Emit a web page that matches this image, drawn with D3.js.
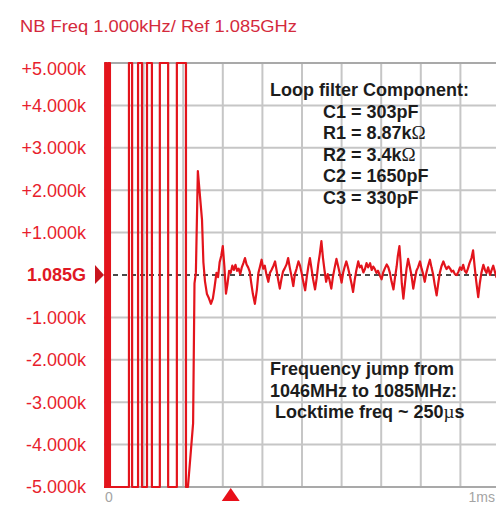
<!DOCTYPE html>
<html>
<head>
<meta charset="utf-8">
<script src="https://cdn.jsdelivr.net/npm/d3@7"></script>
<style>
  body { margin: 0; background: #ffffff; }
  svg { display: block; }
</style>
</head>
<body>
<svg id="chart" width="496" height="506"></svg>
<script>
// ---- data ----------------------------------------------------------------
const titleText = "NB Freq 1.000kHz/ Ref 1.085GHz";

// frequency offset axis (kHz from the 1.085 GHz reference)
const yTickValues = [5, 4, 3, 2, 1, 0, -1, -2, -3, -4, -5];
const yTickLabels = ["+5.000k", "+4.000k", "+3.000k", "+2.000k", "+1.000k", "1.085G",
                     "-1.000k", "-2.000k", "-3.000k", "-4.000k", "-5.000k"];

// time axis (µs)
const xGridValues = [100, 200, 300, 400, 500, 600, 700, 800, 900];
const xTickValues = [0, 1000];
const xTickLabels = ["0", "1ms"];
const markerTimeUs = 320;

// measured trace: time (µs) and frequency offset (kHz); ±6 is off-screen
const timeUs = [
  0, 3, 3, 7, 7, 11, 11, 15, 15, 63, 63, 71, 71, 86, 86, 96, 96, 108.6, 108.6, 121,
  121, 141, 141, 162, 162, 184, 184, 207, 207, 212, 225, 228.5, 232, 237, 247.5, 251,
  255, 260, 265,
  270, 275, 279, 284, 288, 292, 296, 300, 304, 308, 312, 316, 320, 324, 328, 332, 336,
  340, 344, 348, 352, 356, 360, 364, 368, 372, 376, 381, 386, 390, 394, 398, 402, 406,
  410, 415, 419, 423, 428, 432, 436, 440, 444, 448, 452, 456, 461, 465, 469, 474, 478,
  482, 486, 491, 495, 499, 503, 508, 512, 516, 520, 524, 528, 533, 537, 541, 545, 549,
  553, 557, 561, 565, 569, 574, 578, 582, 587, 591, 595, 600, 604, 608, 612, 616, 620,
  625, 629, 633, 637, 642, 646, 650, 655, 659, 663, 667, 672, 676, 680, 684, 688, 692,
  697, 701, 705, 709, 714, 718, 722, 726, 731, 735, 739, 742, 746, 749, 752, 756, 760,
  764, 768, 772, 776, 781, 785, 789, 793, 798, 802, 806, 810, 814, 818, 823, 827, 831,
  835, 840, 844, 848, 852, 857, 861, 865, 870, 874, 878, 882, 886, 891, 895, 899, 903,
  907, 911, 915, 919, 923, 928, 932, 936, 940, 945, 949, 953, 958, 962, 966, 970, 975,
  979, 983, 987, 991, 995, 1000
];
const offsetKHz = [
  -6, -6, 6, 6, -6, -6, 6, 6, -6, -6, 6, 6, -6, -6, 6, 6, -6, -6, 6, 6,
  -6, -6, 6, 6, -6, -6, 6, 6, -6, -6, -3.5, -0.2, 0.05, 2.45, 1.3, 0.3,
  -0.15, -0.45, -0.55,
  -0.68, -0.55, -0.30, 0.05, -0.05, 0.30, 0.45, 0.68, 0.20, -0.44, -0.20, 0.10, 0.05, 0.22, 0.12, 0.24, 0.10,
  0.15, 0.02, 0.18, 0.28, 0.40, 0.25, 0.18, 0.08, -0.20, -0.45, -0.68, -0.35, 0.05, 0.20, 0.36, 0.15, 0.22,
  0.02, -0.16, 0.05, 0.12, 0.22, 0.32, 0.10, -0.12, -0.32, -0.10, 0.08, 0.15, 0.25, 0.40, 0.18, -0.05, -0.26,
  0.02, 0.14, 0.32, 0.22, 0.05, -0.15, -0.36, -0.05, 0.20, 0.40, 0.15, -0.10, -0.34, -0.08, 0.25, 0.50, 0.80,
  0.40, 0.10, -0.16, 0.02, -0.10, -0.32, -0.05, 0.15, 0.38, 0.22, 0.05, -0.18, 0.06, 0.20, 0.32, 0.18, 0.02,
  -0.20, -0.40, -0.12, 0.10, 0.32, 0.18, 0.22, 0.06, 0.14, 0.28, 0.18, 0.28, 0.12, 0.20, 0.14, 0.05, 0.10,
  -0.02, -0.10, 0.06, 0.15, 0.25, 0.18, 0.05, -0.15, -0.34, -0.05, 0.20, 0.45, 0.68, 0.30, -0.20, -0.56, -0.20,
  0.15, 0.38, 0.20, 0.02, -0.32, -0.10, 0.10, 0.18, 0.32, 0.15, 0.02, -0.16, 0.05, 0.20, 0.36, 0.18, 0.02,
  -0.22, -0.48, -0.20, 0.05, 0.20, 0.32, 0.22, 0.14, 0.20, 0.15, 0.08, 0.10, 0.02, 0.00, 0.08, 0.18, 0.12,
  0.24, 0.10, 0.05, 0.15, 0.28, 0.40, 0.58, 0.20, -0.15, -0.52, -0.20, 0.05, 0.24, 0.12, 0.05, 0.18, 0.00,
  0.12, 0.22, 0.08, -0.05, 0.10, 0.15
];

const componentHeader = "Loop filter Component:";
const componentLines = [
  ["C1 = 303pF", ""],
  ["R1 = 8.87k", "\u03A9"],
  ["R2 = 3.4k", "\u03A9"],
  ["C2 = 1650pF", ""],
  ["C3 = 330pF", ""]
];
const noteLines = [
  ["Frequency jump from", ""],
  ["1046MHz to 1085MHz:", ""],
  [" Locktime freq ~ 250", "\u00B5", "s"]
];

// ---- scales --------------------------------------------------------------
const svg = d3.select("#chart");
const W = 496, H = 506;

const x = d3.scaleLinear().domain([0, 1000]).range([104, 500]);
const y = d3.scaleLinear().domain([-5, 5]).range([487, 63]).clamp(true);

const red = "#e81e2d";
const font = "'Liberation Sans', Arial, sans-serif";

svg.append("rect").attr("width", W).attr("height", H).attr("fill", "#ffffff");

// ---- title ---------------------------------------------------------------
svg.append("text")
  .attr("x", 20).attr("y", 32)
  .attr("font-family", font).attr("font-size", 17)
  .attr("fill", "#d42a3c")
  .attr("textLength", 277).attr("lengthAdjust", "spacingAndGlyphs")
  .text(titleText);

// ---- grid ----------------------------------------------------------------
const grid = svg.append("g");
grid.selectAll("line.v").data(xGridValues).join("line")
  .attr("x1", d => x(d)).attr("x2", d => x(d))
  .attr("y1", y(5)).attr("y2", y(-5))
  .attr("stroke", "#c6c6c6").attr("stroke-width", 2);
grid.selectAll("line.h").data(yTickValues.filter(v => v !== 0 && Math.abs(v) < 5)).join("line")
  .attr("x1", x(0)).attr("x2", W)
  .attr("y1", d => y(d)).attr("y2", d => y(d))
  .attr("stroke", "#c6c6c6").attr("stroke-width", 2);
// frame top / bottom
grid.selectAll("line.f").data([5, -5]).join("line")
  .attr("x1", x(0)).attr("x2", W)
  .attr("y1", d => y(d)).attr("y2", d => y(d))
  .attr("stroke", "#a9a9a9").attr("stroke-width", 2);

// reference (0 offset) dashed line
svg.append("line")
  .attr("x1", x(0)).attr("x2", W)
  .attr("y1", y(0)).attr("y2", y(0))
  .attr("stroke", "#4a4a4a").attr("stroke-width", 2)
  .attr("stroke-dasharray", "5,4");

// ---- y labels --------------------------------------------------------------
const yLab = svg.append("g").attr("font-family", font).attr("font-size", 18);
yLab.selectAll("text").data(yTickValues).join("text")
  .attr("x", 86)
  .attr("y", d => y(d) + (d === 5 ? 6 : 0))
  .attr("dy", "0.36em")
  .attr("text-anchor", "end")
  .attr("fill", d => d === 0 ? "#e01824" : red)
  .attr("font-weight", d => d === 0 ? "bold" : "normal")
  .text((d, i) => yTickLabels[i]);

// ---- x labels --------------------------------------------------------------
svg.append("g").attr("font-family", font).attr("font-size", 14).attr("fill", "#a4a4a4")
  .selectAll("text").data(xTickValues).join("text")
  .attr("x", d => d === 0 ? x(d) + 1 : W - 1)
  .attr("text-anchor", d => d === 0 ? "start" : "end")
  .attr("y", 502)
  .text((d, i) => xTickLabels[i]);

// ---- trace -----------------------------------------------------------------
const trace = timeUs.map((t, i) => [t, offsetKHz[i]]);
svg.append("clipPath").attr("id", "plotClip")
  .append("rect").attr("x", x(0) - 2).attr("y", y(5) - 2)
  .attr("width", W - x(0) + 2).attr("height", y(-5) - y(5) + 4);

svg.append("path")
  .datum(trace)
  .attr("clip-path", "url(#plotClip)")
  .attr("fill", "none")
  .attr("stroke", "#e3141c")
  .attr("stroke-width", 2.2)
  .attr("stroke-linejoin", "round")
  .attr("d", d3.line().x(d => x(d[0])).y(d => y(d[1])));

// ---- markers ---------------------------------------------------------------
const y0 = y(0), xl = x(0);
svg.append("path")
  .attr("d", `M${xl - 9},${y0 - 10}L${xl},${y0}L${xl - 9},${y0 + 9}Z`)
  .attr("fill", "#c8141e");
const xm = x(markerTimeUs);
svg.append("path")
  .attr("d", `M${xm},${y(-5) + 1}L${xm + 9},${y(-5) + 14}L${xm - 9},${y(-5) + 14}Z`)
  .attr("fill", "#e8101a");

// ---- annotations -------------------------------------------------------------
const ann = svg.append("g")
  .attr("font-family", font).attr("font-size", 18).attr("font-weight", "bold")
  .attr("fill", "#1c1c1c");
ann.append("text").attr("x", 270).attr("y", 96).text(componentHeader);
componentLines.forEach((ln, i) => {
  const t = ann.append("text").attr("x", 323).attr("y", 117.5 + i * 21.5);
  t.append("tspan").text(ln[0]);
  if (ln[1]) t.append("tspan")
    .attr("font-family", "'Liberation Serif', 'Times New Roman', serif")
    .attr("font-weight", "normal").attr("font-size", 19).text(ln[1]);
});
noteLines.forEach((ln, i) => {
  const t = ann.append("text").attr("x", 270).attr("y", 375 + i * 21.5)
    .attr("xml:space", "preserve").style("white-space", "pre");
  t.append("tspan").text(ln[0]);
  if (ln[1]) t.append("tspan")
    .attr("font-family", "'Liberation Serif', 'Times New Roman', serif")
    .attr("font-weight", "normal").attr("font-size", 19).text(ln[1]);
  if (ln[2]) t.append("tspan").text(ln[2]);
});
</script>
</body>
</html>
